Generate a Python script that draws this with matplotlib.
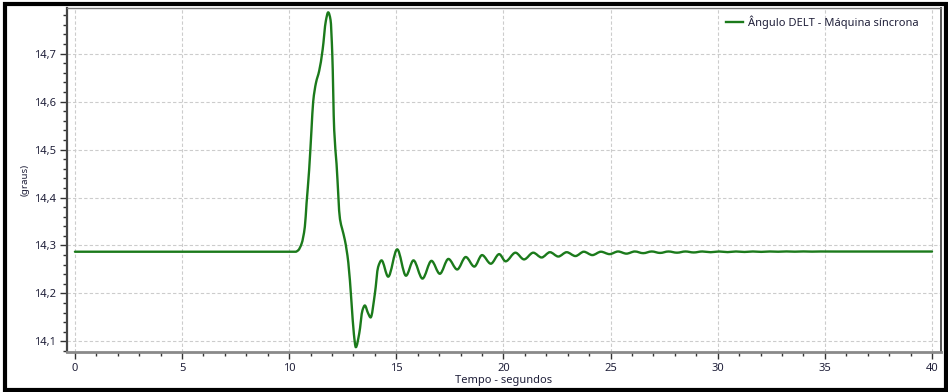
import matplotlib
matplotlib.use("Agg")
import matplotlib.pyplot as plt
import numpy as np
from matplotlib.path import Path
from matplotlib.patches import PathPatch, Rectangle
from matplotlib.lines import Line2D
from matplotlib.ticker import MultipleLocator, FuncFormatter

plt.rcParams['font.family'] = ['Noto Sans', 'DejaVu Sans']

# ---- data ----
series_label = "Ângulo DELT - Máquina síncrona"
x_label = "Tempo - segundos"
y_label = "(graus)"

time_s = [0.0, 10.30, 10.42, 10.58, 10.73, 10.81, 10.93, 11.04, 11.12, 11.25, 11.40,
          11.56, 11.71, 11.82, 11.93, 12.01, 12.10, 12.21, 12.37, 12.47, 12.60,
          12.76, 12.91, 13.02, 13.11, 13.27, 13.42, 13.53, 13.68, 13.80, 14.00,
          14.15, 14.31, 14.62, 15.04, 15.45, 15.80, 16.22, 16.64, 17.03, 17.43,
          17.84, 18.24, 18.64, 19.00, 19.41, 19.80, 20.10, 20.56, 20.96, 21.39,
          21.78, 22.17, 22.56, 22.95, 23.36, 23.75, 24.15, 24.55, 24.95, 25.35,
          25.74, 26.13, 26.52, 26.92, 27.31, 27.70, 28.10, 28.49, 28.88, 29.28,
          29.67, 30.06, 30.46, 30.85, 31.25, 31.64, 32.03, 32.43, 32.82, 33.21,
          33.60, 34.00, 34.40, 34.80, 35.50, 40.0]
delta_deg = [14.287, 14.287, 14.290, 14.304, 14.339, 14.388, 14.457, 14.541, 14.600, 14.639, 14.664,
             14.708, 14.768, 14.786, 14.770, 14.700, 14.541, 14.470, 14.355, 14.335, 14.311,
             14.264, 14.180, 14.115, 14.088, 14.117, 14.165, 14.175, 14.159, 14.150, 14.200,
             14.255, 14.269, 14.235, 14.292, 14.237, 14.269, 14.231, 14.268, 14.241, 14.272,
             14.250, 14.276, 14.256, 14.280, 14.262, 14.282, 14.267, 14.285, 14.271, 14.285,
             14.275, 14.286, 14.277, 14.286, 14.278, 14.287, 14.280, 14.287, 14.282, 14.2875,
             14.283, 14.2875, 14.284, 14.2875, 14.2845, 14.2875, 14.285, 14.2875, 14.2855, 14.2875,
             14.286, 14.2875, 14.2862, 14.2875, 14.2865, 14.2875, 14.2867, 14.2875, 14.287, 14.2876,
             14.2871, 14.2876, 14.2872, 14.2875, 14.2874, 14.2874]

x_ticks = [0, 5, 10, 15, 20, 25, 30, 35, 40]
y_ticks = [14.1, 14.2, 14.3, 14.4, 14.5, 14.6, 14.7]

line_color = '#1b7a1b'

# ---- smooth (monotone cubic Bezier) rendering of the polyline ----
def smooth_path(xs, ys):
    xs = np.asarray(xs, float); ys = np.asarray(ys, float)
    h = np.diff(xs); d = np.diff(ys) / h
    n = len(xs)
    m = np.zeros(n)
    for i in range(1, n - 1):
        if d[i - 1] * d[i] > 0:
            w1 = 2 * h[i] + h[i - 1]; w2 = h[i] + 2 * h[i - 1]
            m[i] = (w1 + w2) / (w1 / d[i - 1] + w2 / d[i])
    verts = [(xs[0], ys[0])]
    codes = [Path.MOVETO]
    for i in range(n - 1):
        verts += [(xs[i] + h[i] / 3, ys[i] + m[i] * h[i] / 3),
                  (xs[i + 1] - h[i] / 3, ys[i + 1] - m[i + 1] * h[i] / 3),
                  (xs[i + 1], ys[i + 1])]
        codes += [Path.CURVE4] * 3
    return Path(verts, codes)

W, H = 948, 392
fig = plt.figure(figsize=(W / 100, H / 100), dpi=100)
ax = fig.add_axes([67 / W, 1 - 352 / H, (941 - 67) / W, (352 - 8) / H])

patch = PathPatch(smooth_path(time_s, delta_deg), facecolor='none',
                  edgecolor=line_color, lw=1.7, transform=ax.transData,
                  capstyle='round', joinstyle='round', zorder=3)
ax.add_patch(patch)

ax.set_xlim(-0.37, 40.42)
ax.set_ylim(14.078, 14.795)

ax.set_xticks(x_ticks)
ax.set_yticks(y_ticks)
ax.xaxis.set_minor_locator(MultipleLocator(1))
ax.yaxis.set_minor_locator(MultipleLocator(0.02))
ax.yaxis.set_major_formatter(FuncFormatter(lambda v, p: f"{v:.1f}".replace('.', ',')))
ax.xaxis.set_major_formatter(FuncFormatter(lambda v, p: f"{v:g}"))

lab_col = '#20203a'
ax.tick_params(axis='both', which='major', labelsize=8, colors='#333333', labelcolor=lab_col,
               length=5, width=1.0, direction='out')
ax.tick_params(axis='both', which='minor', colors='#333333', length=3, width=1.0, direction='out')
ax.tick_params(axis='x', pad=3)
ax.tick_params(axis='y', pad=3)

ax.grid(True, which='major', color='#cccccc', linestyle=(0, (3, 2)), linewidth=0.8)
ax.set_axisbelow(True)

ax.spines['left'].set_color('#444444'); ax.spines['left'].set_linewidth(1.6)
ax.spines['bottom'].set_color('#8a8a8a'); ax.spines['bottom'].set_linewidth(2.0)
ax.spines['top'].set_color('#777777'); ax.spines['top'].set_linewidth(1.0)
ax.spines['right'].set_color('#555555'); ax.spines['right'].set_linewidth(1.4)

ax.set_xlabel(x_label, fontsize=8, color=lab_col, labelpad=1)
ax.set_ylabel(y_label, fontsize=7, color=lab_col, labelpad=3)

handle = Line2D([], [], color=line_color, lw=1.7)
ax.legend([handle], [series_label], loc='upper right', frameon=False, fontsize=8,
          handlelength=1.6, handletextpad=0.4, borderaxespad=0.3,
          labelcolor=lab_col, bbox_to_anchor=(0.983, 1.0))

# outer black frame of the screenshot
fig.patches.append(Rectangle((5 / W, 2 / H), (946 - 5) / W, (388 - 2) / H,
                             transform=fig.transFigure, fill=False,
                             edgecolor='black', linewidth=3, zorder=10))

fig.savefig('out.png', dpi=100)
